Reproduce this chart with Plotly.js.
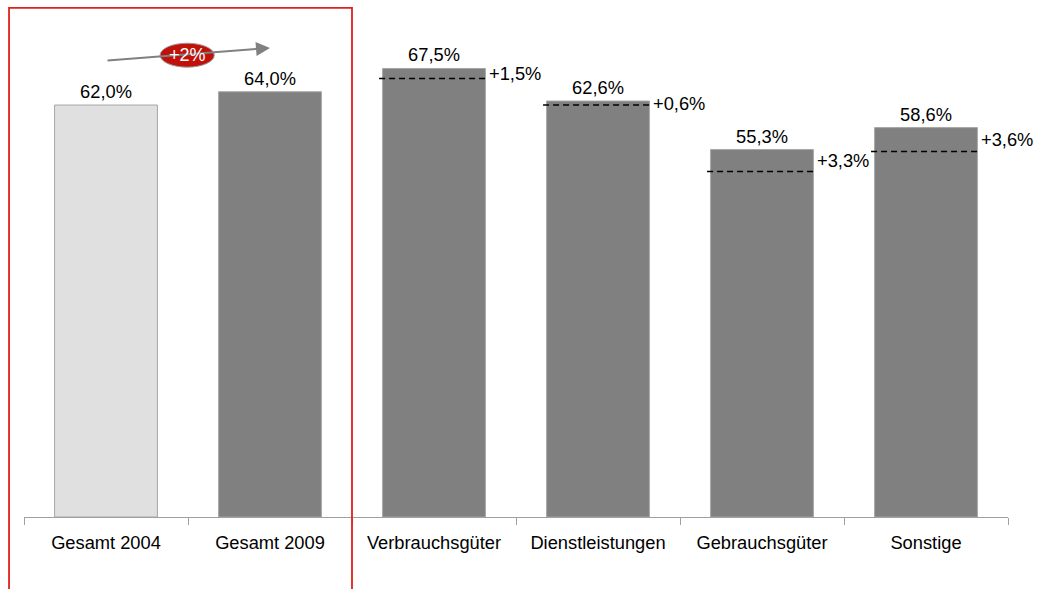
<!DOCTYPE html>
<html>
<head>
<meta charset="utf-8">
<script src="https://cdn.plot.ly/plotly-3.0.1.min.js"></script>
<style>html,body{margin:0;padding:0;background:#fff;}#chart{width:1038px;height:589px;}</style>
</head>
<body>
<div id="chart"></div>
<script>
// ---- data ----
const categories = ['Gesamt 2004', 'Gesamt 2009', 'Verbrauchsgüter', 'Dienstleistungen', 'Gebrauchsgüter', 'Sonstige'];
const values = [62.0, 64.0, 67.5, 62.6, 55.3, 58.6];
const deltas = [null, null, 1.5, 0.6, 3.3, 3.6];
const totalChangeLabel = '+2%';
const arrowFrom = 68.7;   // arrow start level (above Gesamt 2004)
const arrowTo = 70.6;     // arrow end level (above Gesamt 2009)

// ---- helpers ----
const fmt = v => v.toFixed(1).replace('.', ',') + '%';
const fmtDelta = v => '+' + v.toFixed(1).replace('.', ',') + '%';
const FONT = 'Liberation Sans, Arial, sans-serif';
const FS = 18.3;
const barColors = values.map((v, i) => i === 0 ? '#e0e0e0' : '#808080');

const trace = {
  type: 'bar',
  x: categories,
  y: values,
  text: values.map(fmt),
  textposition: 'outside',
  cliponaxis: false,
  textfont: {family: FONT, size: FS, color: '#000'},
  marker: {color: barColors, line: {color: '#a6a6a6', width: 1}},
  hoverinfo: 'skip'
};

const shapes = [];
const annotations = [];
const barHalf = 0.3135;

deltas.forEach((d, i) => {
  if (d === null) return;
  const base = values[i] - d;
  shapes.push({
    type: 'line', xref: 'x', yref: 'y',
    x0: i - 0.335, x1: i + 0.325, y0: base, y1: base,
    line: {color: '#000', width: 1.5, dash: '6px,4px'}
  });
  annotations.push({
    xref: 'x', yref: 'y', x: i + barHalf, y: values[i] - d / 2,
    xanchor: 'left', yanchor: 'middle', xshift: 2,
    text: fmtDelta(d), showarrow: false,
    font: {family: FONT, size: FS, color: '#000'}
  });
});

// red frame around the two totals
shapes.push({
  type: 'rect', xref: 'paper', yref: 'paper',
  x0: -0.0152, x1: 1 / 3, y0: -0.3, y1: 1.008,
  line: {color: '#e0201b', width: 1.8}, fillcolor: 'rgba(0,0,0,0)'
});

// arrow between the totals
annotations.push({
  xref: 'x', yref: 'y', axref: 'x', ayref: 'y',
  x: 1, y: arrowTo, ax: 0, ay: arrowFrom,
  text: '', showarrow: true, arrowhead: 2, arrowsize: 1.4, arrowwidth: 2,
  arrowcolor: '#808080'
});
// red ellipse with total change
shapes.push({
  type: 'circle', xref: 'x', yref: 'y',
  x0: 0.33, x1: 0.66, y0: 67.7, y1: 71.3,
  fillcolor: '#c0120a', line: {color: '#9a9a9a', width: 1}
});
annotations.push({
  xref: 'x', yref: 'y', x: 0.495, y: 69.5,
  text: totalChangeLabel, showarrow: false,
  font: {family: FONT, size: 18, color: '#fff'}
});

const layout = {
  width: 1038, height: 589,
  margin: {l: 24, r: 30, t: 12, b: 72},
  paper_bgcolor: '#fff', plot_bgcolor: '#fff',
  bargap: 0.373,
  showlegend: false,
  font: {family: FONT, color: '#000'},
  xaxis: {
    type: 'category', range: [-0.5, 5.5], fixedrange: true,
    showline: true, linecolor: '#a0a0a0', linewidth: 1,
    ticks: 'outside', tickson: 'boundaries', ticklen: 7, tickcolor: '#a0a0a0', tickwidth: 1,
    ticklabelstandoff: 9,
    tickfont: {family: FONT, size: FS, color: '#000'},
    showgrid: false, zeroline: false
  },
  yaxis: {
    range: [0, 76], visible: false, showgrid: false, zeroline: false, fixedrange: true
  },
  shapes: shapes,
  annotations: annotations
};

Plotly.newPlot('chart', [trace], layout, {displayModeBar: false, staticPlot: true});
</script>
</body>
</html>
